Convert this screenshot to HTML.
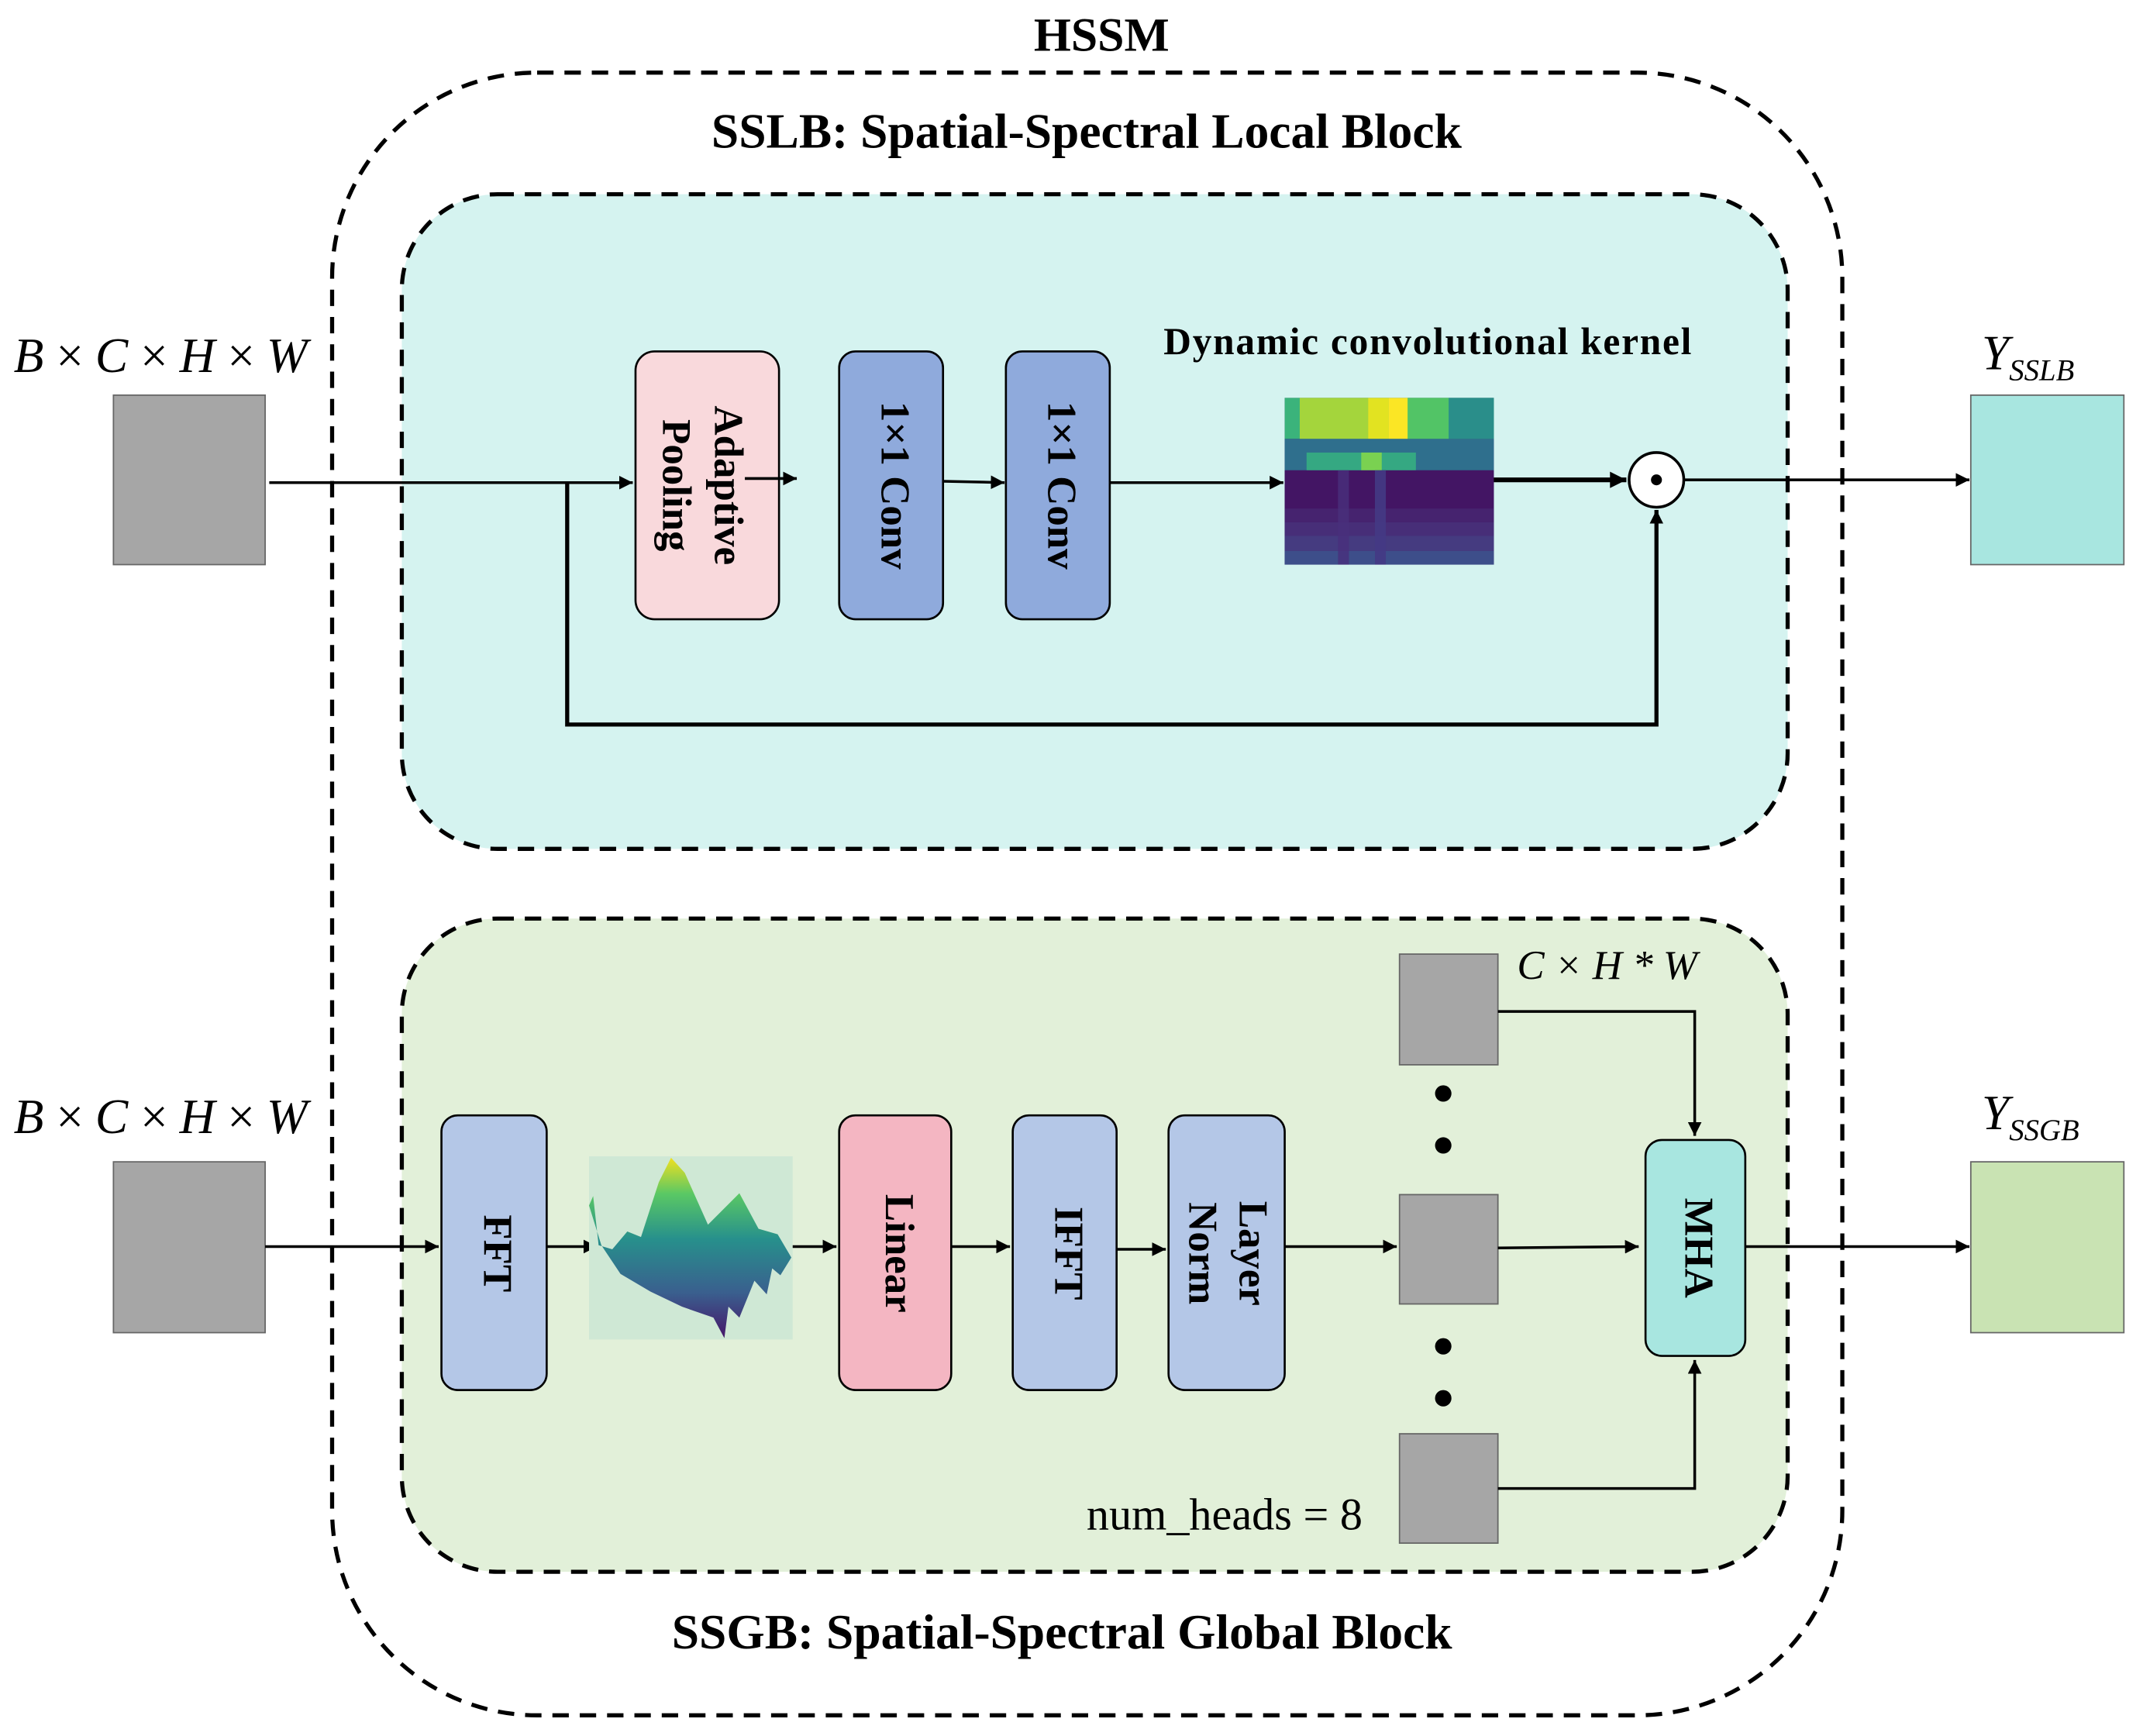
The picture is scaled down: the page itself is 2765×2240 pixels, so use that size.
<!DOCTYPE html>
<html><head><meta charset="utf-8"><style>
html,body{margin:0;padding:0;background:#fff;}
svg{display:block;}
text{font-family:"Liberation Serif",serif;}
</style></head><body>
<svg width="2765" height="2240" viewBox="0 0 1568 1270" xmlns="http://www.w3.org/2000/svg">
<defs>
<marker id="a" viewBox="0 0 10 10" refX="10" refY="5" markerWidth="10" markerHeight="10" markerUnits="userSpaceOnUse" orient="auto"><path d="M0,0 L10,5 L0,10 z" fill="#000"/></marker>
<marker id="b" viewBox="0 0 10 10" refX="10" refY="5" markerWidth="14" markerHeight="12" markerUnits="userSpaceOnUse" orient="auto"><path d="M0,0 L10,5 L0,10 z" fill="#000"/></marker>
<linearGradient id="sg" gradientUnits="userSpaceOnUse" x1="0" y1="847" x2="0" y2="979"><stop offset="0" stop-color="#f0e020"/><stop offset="0.2" stop-color="#5ac864"/><stop offset="0.45" stop-color="#27908c"/><stop offset="0.75" stop-color="#3a5f8e"/><stop offset="1" stop-color="#46166a"/></linearGradient>
</defs>
<rect width="1568" height="1270" fill="#fff"/>
<text x="806" y="37" font-size="35" font-weight="bold" text-anchor="middle">HSSM</text>
<rect x="243" y="53" width="1105" height="1202" rx="150" fill="none" stroke="#000" stroke-width="3" stroke-dasharray="12,8"/>
<text x="795" y="108" font-size="36" font-weight="bold" text-anchor="middle">SSLB: Spatial-Spectral Local Block</text>
<rect x="294" y="142" width="1014" height="479" rx="70" fill="#d5f3f0" stroke="#000" stroke-width="3" stroke-dasharray="12,8"/>
<rect x="294" y="672" width="1014" height="478" rx="70" fill="#e2f0d9" stroke="#000" stroke-width="3" stroke-dasharray="12,8"/>
<text x="777" y="1206" font-size="36" font-weight="bold" text-anchor="middle">SSGB: Spatial-Spectral Global Block</text>

<text x="10" y="272" font-size="36" font-style="italic" textLength="215" lengthAdjust="spacing">B × C × H × W</text>
<rect x="83" y="289" width="111" height="124" fill="#a6a6a6" stroke="#666"/>
<text x="10" y="829" font-size="36" font-style="italic" textLength="215" lengthAdjust="spacing">B × C × H × W</text>
<rect x="83" y="850" width="111" height="125" fill="#a6a6a6" stroke="#666"/>

<line x1="197" y1="353" x2="463" y2="353" stroke="#000" stroke-width="2" marker-end="url(#a)"/>
<polyline points="415,353 415,530 1212,530 1212,373" fill="none" stroke="#000" stroke-width="3" marker-end="url(#a)"/>
<rect x="465" y="257" width="105" height="196" rx="14" fill="#f9d9dc" stroke="#000" stroke-width="1.5"/>
<text transform="translate(530,355) rotate(90)" font-size="30" font-weight="bold" text-anchor="middle" dominant-baseline="middle">Adaptive</text>
<text transform="translate(492,355) rotate(90)" font-size="30" font-weight="bold" text-anchor="middle" dominant-baseline="middle">Pooling</text>
<line x1="545" y1="350" x2="583" y2="350" stroke="#000" stroke-width="2" marker-end="url(#a)"/>
<rect x="614" y="257" width="76" height="196" rx="12" fill="#8faadc" stroke="#000" stroke-width="1.5"/>
<text transform="translate(652,355) rotate(90)" font-size="30" font-weight="bold" text-anchor="middle" dominant-baseline="middle">1×1 Conv</text>
<line x1="690" y1="352" x2="735" y2="353" stroke="#000" stroke-width="2" marker-end="url(#a)"/>
<rect x="736" y="257" width="76" height="196" rx="12" fill="#8faadc" stroke="#000" stroke-width="1.5"/>
<text transform="translate(774,355) rotate(90)" font-size="30" font-weight="bold" text-anchor="middle" dominant-baseline="middle">1×1 Conv</text>
<line x1="812" y1="353" x2="939" y2="353" stroke="#000" stroke-width="2" marker-end="url(#a)"/>
<text x="1045" y="259" font-size="28" font-weight="bold" text-anchor="middle" letter-spacing="1">Dynamic convolutional kernel</text>
<g>
<rect x="940" y="291" width="153" height="122" fill="#3f1a68"/>
<rect x="940" y="291" width="153" height="30" fill="#3bb37b"/>
<rect x="951" y="291" width="50" height="30" fill="#a4d53c"/>
<rect x="1001" y="291" width="15" height="30" fill="#e2e321"/>
<rect x="1016" y="291" width="14" height="30" fill="#fbe625"/>
<rect x="1030" y="291" width="30" height="30" fill="#52c466"/>
<rect x="1060" y="291" width="33" height="30" fill="#2a8e8a"/>
<rect x="940" y="321" width="153" height="23" fill="#2f6f8d"/>
<rect x="956" y="331" width="80" height="13" fill="#35a882"/>
<rect x="996" y="331" width="15" height="13" fill="#7ad151"/>
<rect x="940" y="344" width="153" height="69" fill="#431564"/>
<rect x="940" y="372" width="153" height="10" fill="#46236f"/>
<rect x="940" y="382" width="153" height="10" fill="#472e78"/>
<rect x="940" y="392" width="153" height="11" fill="#453b80"/>
<rect x="940" y="403" width="153" height="10" fill="#3d4e8a"/>
<rect x="979" y="344" width="8" height="69" fill="#48307c" opacity="0.8"/>
<rect x="1006" y="344" width="8" height="69" fill="#443a84" opacity="0.9"/>
</g>
<line x1="1093" y1="351" x2="1190" y2="351" stroke="#000" stroke-width="3.5" marker-end="url(#b)"/>
<circle cx="1212" cy="351" r="20" fill="#fff" stroke="#000" stroke-width="2"/>
<circle cx="1212" cy="351" r="4" fill="#000"/>
<line x1="1232" y1="351" x2="1441" y2="351" stroke="#000" stroke-width="2" marker-end="url(#a)"/>
<text x="1450" y="270" font-size="36" font-style="italic">Y<tspan font-size="22" dy="8">SSLB</tspan></text>
<rect x="1442" y="289" width="112" height="124" fill="#a8e6e0" stroke="#666"/>

<line x1="194" y1="912" x2="321" y2="912" stroke="#000" stroke-width="2" marker-end="url(#a)"/>
<rect x="323" y="816" width="77" height="201" rx="12" fill="#b4c7e7" stroke="#000" stroke-width="1.5"/>
<text transform="translate(361,917) rotate(90)" font-size="30" font-weight="bold" text-anchor="middle" dominant-baseline="middle">FFT</text>
<line x1="400" y1="912" x2="437" y2="912" stroke="#000" stroke-width="2" marker-end="url(#a)"/>
<rect x="431" y="846" width="149" height="134" fill="#cfe8d5"/>
<path d="M434,875 L438,911 L448,914 L459,901 L469,905 L482,865 L491,847 L501,858 L518,896 L541,873 L555,899 L569,903 L579,920 L571,933 L565,928 L561,947 L552,937 L541,964 L533,956 L530,979 L522,964 L499,956 L476,945 L454,932 L440,911 L431,882 Z" fill="url(#sg)" stroke-linejoin="round"/>
<line x1="580" y1="912" x2="612" y2="912" stroke="#000" stroke-width="2" marker-end="url(#a)"/>
<rect x="614" y="816" width="82" height="201" rx="12" fill="#f4b6c2" stroke="#000" stroke-width="1.5"/>
<text transform="translate(655,917) rotate(90)" font-size="30" font-weight="bold" text-anchor="middle" dominant-baseline="middle">Linear</text>
<line x1="696" y1="912" x2="739" y2="912" stroke="#000" stroke-width="2" marker-end="url(#a)"/>
<rect x="741" y="816" width="76" height="201" rx="12" fill="#b4c7e7" stroke="#000" stroke-width="1.5"/>
<text transform="translate(779,917) rotate(90)" font-size="30" font-weight="bold" text-anchor="middle" dominant-baseline="middle">IFFT</text>
<line x1="817" y1="914" x2="853" y2="914" stroke="#000" stroke-width="2" marker-end="url(#a)"/>
<rect x="855" y="816" width="85" height="201" rx="12" fill="#b4c7e7" stroke="#000" stroke-width="1.5"/>
<text transform="translate(914,917) rotate(90)" font-size="30" font-weight="bold" text-anchor="middle" dominant-baseline="middle">Layer</text>
<text transform="translate(877,917) rotate(90)" font-size="30" font-weight="bold" text-anchor="middle" dominant-baseline="middle">Norm</text>
<line x1="940" y1="912" x2="1022" y2="912" stroke="#000" stroke-width="2" marker-end="url(#a)"/>
<rect x="1024" y="698" width="72" height="81" fill="#a6a6a6" stroke="#666"/>
<rect x="1024" y="874" width="72" height="80" fill="#a6a6a6" stroke="#666"/>
<rect x="1024" y="1049" width="72" height="80" fill="#a6a6a6" stroke="#666"/>
<circle cx="1056" cy="800" r="6" fill="#000"/>
<circle cx="1056" cy="838" r="6" fill="#000"/>
<circle cx="1056" cy="985" r="6" fill="#000"/>
<circle cx="1056" cy="1023" r="6" fill="#000"/>
<text x="1110" y="716" font-size="30" font-style="italic">C × H * W</text>
<polyline points="1096,740 1240,740 1240,831" fill="none" stroke="#000" stroke-width="2" marker-end="url(#a)"/>
<line x1="1096" y1="913" x2="1199" y2="912" stroke="#000" stroke-width="2" marker-end="url(#a)"/>
<polyline points="1096,1089 1240,1089 1240,995" fill="none" stroke="#000" stroke-width="2" marker-end="url(#a)"/>
<rect x="1204" y="834" width="73" height="158" rx="12" fill="#a8e6e0" stroke="#000" stroke-width="1.5"/>
<text transform="translate(1240,913) rotate(90)" font-size="30" font-weight="bold" text-anchor="middle" dominant-baseline="middle">MHA</text>
<line x1="1277" y1="912" x2="1441" y2="912" stroke="#000" stroke-width="2" marker-end="url(#a)"/>
<text x="1450" y="826" font-size="36" font-style="italic">Y<tspan font-size="22" dy="8">SSGB</tspan></text>
<rect x="1442" y="850" width="112" height="125" fill="#c9e3b3" stroke="#666"/>
<text x="795" y="1119" font-size="33">num_heads = 8</text>
</svg>
</body></html>
